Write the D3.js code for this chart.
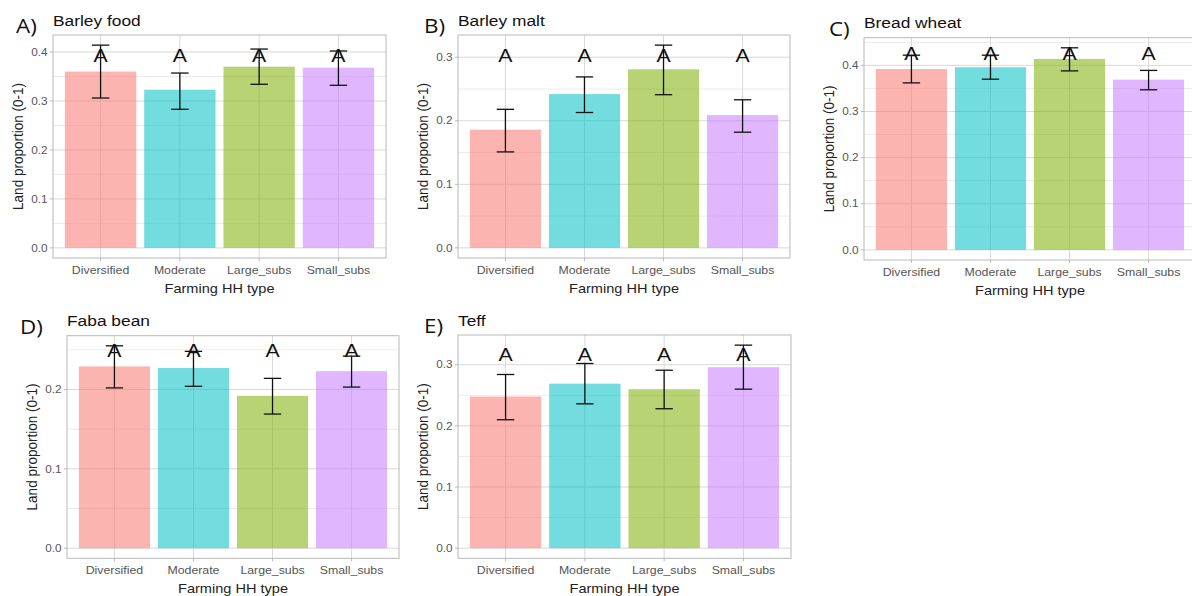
<!DOCTYPE html>
<html>
<head>
<meta charset="utf-8">
<script src="https://cdn.jsdelivr.net/npm/d3@7"></script>
<style>
  body { margin: 0; background: #fff; }
  text { font-family: "Liberation Sans", Arial, sans-serif; }
</style>
</head>
<body>
<div id="chart"></div>
<script>
const categories = ["Diversified", "Moderate", "Large_subs", "Small_subs"];
const colors = ["#F8766D", "#00BFC4", "#7CAE00", "#C77CFF"];

const panelTags = ["A)", "B)", "C)", "D)", "E)"];
const cropTitles = ["Barley food", "Barley malt", "Bread wheat", "Faba bean", "Teff"];

// mean land proportion and error bar ends, per crop
const barleyFoodMean = [0.360, 0.323, 0.370, 0.368];
const barleyFoodLow  = [0.306, 0.283, 0.334, 0.332];
const barleyFoodHigh = [0.414, 0.357, 0.406, 0.402];

const barleyMaltMean = [0.186, 0.242, 0.281, 0.209];
const barleyMaltLow  = [0.151, 0.213, 0.241, 0.182];
const barleyMaltHigh = [0.218, 0.269, 0.319, 0.233];

const breadWheatMean = [0.392, 0.396, 0.414, 0.369];
const breadWheatLow  = [0.362, 0.370, 0.388, 0.347];
const breadWheatHigh = [0.422, 0.422, 0.438, 0.389];

const fabaBeanMean = [0.229, 0.227, 0.192, 0.223];
const fabaBeanLow  = [0.202, 0.204, 0.169, 0.203];
const fabaBeanHigh = [0.255, 0.248, 0.214, 0.242];

const teffMean = [0.248, 0.269, 0.260, 0.296];
const teffLow  = [0.210, 0.236, 0.228, 0.260];
const teffHigh = [0.284, 0.302, 0.291, 0.332];

// Tukey letters and the height they sit at
const groupLetters = ["A", "A", "A", "A"];
const letterHeights = [0.394, 0.303, 0.426, 0.250, 0.318];

const means = [barleyFoodMean, barleyMaltMean, breadWheatMean, fabaBeanMean, teffMean];
const lows = [barleyFoodLow, barleyMaltLow, breadWheatLow, fabaBeanLow, teffLow];
const highs = [barleyFoodHigh, barleyMaltHigh, breadWheatHigh, fabaBeanHigh, teffHigh];

// plot area of each panel (left, top, right, bottom) and where its tag sits
const boxes = [
  [53, 35, 386, 258],
  [458, 35, 790, 258],
  [864, 37.7, 1196, 260],
  [67, 335.7, 399, 558.3],
  [458, 335, 791, 558.3]
];
const tagX = [16, 424, 829, 20, 424];

const sx = 1.12; // the picture is a bit wider than tall
const svg = d3.select("#chart").append("svg")
  .attr("width", 1192)
  .attr("height", 596);

svg.append("rect").attr("width", 1192).attr("height", 596).attr("fill", "#fff");

function label(g, x, y, txt) {
  return g.append("text")
    .attr("transform", `translate(${x},${y}) scale(${sx},1)`)
    .text(txt);
}

boxes.forEach((b, i) => {
  const [left, top, right, bottom] = b;
  const g = svg.append("g");

  const rows = categories.map((c, j) => ({
    cat: c, mean: means[i][j], low: lows[i][j], high: highs[i][j], color: colors[j], letter: groupLetters[j]
  }));

  const m = d3.max(rows, d => d.high);
  const y = d3.scaleLinear()
    .domain([-0.05 * m, m * 1.05])
    .range([bottom, top]);

  const x = d3.scalePoint()
    .domain(categories)
    .range([left, right])
    .padding(0.6);
  const step = x.step();

  const major = d3.range(0, y.domain()[1], 0.1);
  const minor = d3.range(0.05, y.domain()[1], 0.1);

  // grid
  g.selectAll("line.minor").data(minor).enter().append("line")
    .attr("x1", left).attr("x2", right)
    .attr("y1", d => y(d)).attr("y2", d => y(d))
    .attr("stroke", "#e6e6e6").attr("stroke-width", 0.8);
  g.selectAll("line.major").data(major).enter().append("line")
    .attr("x1", left).attr("x2", right)
    .attr("y1", d => y(d)).attr("y2", d => y(d))
    .attr("stroke", "#d9d9d9").attr("stroke-width", 1);
  g.selectAll("line.vgrid").data(categories).enter().append("line")
    .attr("x1", d => x(d)).attr("x2", d => x(d))
    .attr("y1", top).attr("y2", bottom)
    .attr("stroke", "#d9d9d9").attr("stroke-width", 1);

  // bars
  g.selectAll("rect.bar").data(rows).enter().append("rect")
    .attr("x", d => x(d.cat) - step * 0.45)
    .attr("width", step * 0.9)
    .attr("y", d => y(d.mean))
    .attr("height", d => y(0) - y(d.mean))
    .attr("fill", d => d.color)
    .attr("fill-opacity", 0.55);

  // letters
  g.selectAll("text.letter").data(rows).enter().append("text")
    .attr("transform", d => `translate(${x(d.cat)},${y(letterHeights[i])}) scale(${sx},1)`)
    .attr("text-anchor", "middle")
    .attr("dy", "0.36em")
    .style("font-size", "19px")
    .attr("fill", "#111")
    .text(d => d.letter);

  // error bars
  const cap = step * 0.11;
  const eb = g.selectAll("g.err").data(rows).enter().append("g")
    .attr("stroke", "#111").attr("stroke-width", 1.3);
  eb.append("line")
    .attr("x1", d => x(d.cat)).attr("x2", d => x(d.cat))
    .attr("y1", d => y(d.low)).attr("y2", d => y(d.high));
  eb.append("line")
    .attr("x1", d => x(d.cat) - cap).attr("x2", d => x(d.cat) + cap)
    .attr("y1", d => y(d.low)).attr("y2", d => y(d.low));
  eb.append("line")
    .attr("x1", d => x(d.cat) - cap).attr("x2", d => x(d.cat) + cap)
    .attr("y1", d => y(d.high)).attr("y2", d => y(d.high));

  // panel border
  g.append("rect")
    .attr("x", left).attr("y", top)
    .attr("width", right - left).attr("height", bottom - top)
    .attr("fill", "none").attr("stroke", "#b8b8b8").attr("stroke-width", 1);

  // y axis ticks and labels
  major.forEach(v => {
    g.append("line")
      .attr("x1", left - 3).attr("x2", left)
      .attr("y1", y(v)).attr("y2", y(v))
      .attr("stroke", "#b8b8b8");
    label(g, left - 5.5, y(v), d3.format(".1f")(v))
      .attr("text-anchor", "end")
      .attr("dy", "0.35em")
      .style("font-size", "10.5px")
      .attr("fill", "#555");
  });

  // x axis ticks and labels
  categories.forEach(c => {
    g.append("line")
      .attr("x1", x(c)).attr("x2", x(c))
      .attr("y1", bottom).attr("y2", bottom + 3)
      .attr("stroke", "#b8b8b8");
    label(g, x(c), bottom + 16, c)
      .attr("text-anchor", "middle")
      .style("font-size", "11px")
      .attr("fill", "#555");
  });

  // axis titles
  label(g, (left + right) / 2, bottom + 35, "Farming HH type")
    .attr("text-anchor", "middle")
    .style("font-size", "13px")
    .attr("fill", "#222");
  g.append("text")
    .attr("transform", `translate(${left - 35.5},${(top + bottom) / 2}) scale(${sx},1) rotate(-90)`)
    .attr("text-anchor", "middle")
    .attr("dy", "0.35em")
    .style("font-size", "13.5px")
    .attr("fill", "#222")
    .text("Land proportion (0-1)");

  // title and panel tag
  label(g, left, top - 9.5, cropTitles[i])
    .style("font-size", "15.5px")
    .attr("fill", "#111");
  label(g, tagX[i], top - 2, panelTags[i])
    .style("font-family", "'Open Sans', sans-serif")
    .style("font-size", "20px")
    .attr("fill", "#111");
});
</script>
</body>
</html>
